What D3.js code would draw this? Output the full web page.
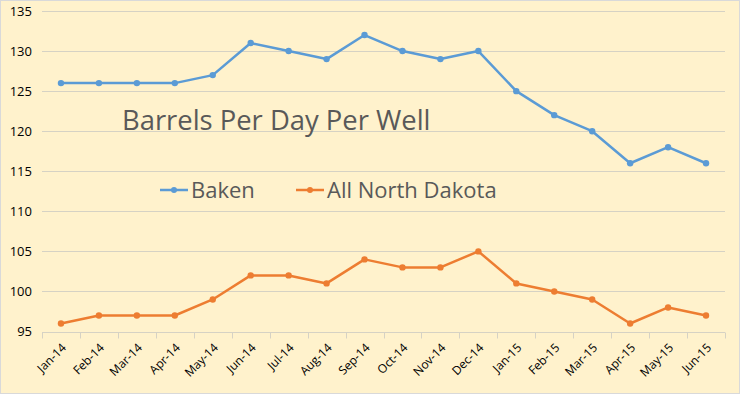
<!DOCTYPE html>
<html>
<head>
<meta charset="utf-8">
<script src="https://cdn.jsdelivr.net/npm/d3@7"></script>
<style>
  body { margin: 0; background: #fff; }
  svg { display: block; font-family: "Open Sans", "Noto Sans", sans-serif; }
</style>
</head>
<body>
<svg class="chart" width="740" height="394"></svg>
<script>
var months = ['Jan-14','Feb-14','Mar-14','Apr-14','May-14','Jun-14','Jul-14','Aug-14','Sep-14',
  'Oct-14','Nov-14','Dec-14','Jan-15','Feb-15','Mar-15','Apr-15','May-15','Jun-15'];
var baken = [126,126,126,126,127,131,130,129,132,130,129,130,125,122,120,116,118,116];
var northDakota = [96,97,97,97,99,102,102,101,104,103,103,105,101,100,99,96,98,97];
var yTicks = [95,100,105,110,115,120,125,130,135];

var svg = d3.select('.chart');
var width = +svg.attr('width');
var height = +svg.attr('height');

// background + border
svg.append('rect')
  .attr('x', 0.5).attr('y', 0.5)
  .attr('width', width - 1).attr('height', height - 1)
  .attr('fill', '#FFF2CC')
  .attr('stroke', '#D9D9D9');

var plot = {l: 42, r: 725, t: 11, b: 331.5};

var x = d3.scaleBand().domain(months).range([plot.l, plot.r]);
var y = d3.scaleLinear().domain([95, 135]).range([plot.b, plot.t]);

// gridlines
svg.append('g')
  .selectAll('line')
  .data(yTicks)
  .join('line')
  .attr('x1', plot.l).attr('x2', plot.r)
  .attr('y1', function(d) { return Math.round(y(d)) + 0.5; })
  .attr('y2', function(d) { return Math.round(y(d)) + 0.5; })
  .attr('stroke', '#D6D2C4')
  .attr('stroke-width', 1);

// y labels
var yAxis = d3.axisLeft(y).tickValues(yTicks).tickSize(0).tickPadding(10);
var yG = svg.append('g')
  .attr('transform', 'translate(' + plot.l + ',0)')
  .call(yAxis);
yG.select('.domain').remove();
yG.selectAll('text')
  .attr('fill', '#000')
  .style('font-size', '13px')
  .style('font-family', '"Open Sans", sans-serif');

// x tick marks at category boundaries
var bounds = months.map(function(m) { return x(m); }).concat([plot.r]);
svg.append('g')
  .selectAll('line')
  .data(bounds)
  .join('line')
  .attr('x1', function(d) { return Math.round(d) + 0.5; })
  .attr('x2', function(d) { return Math.round(d) + 0.5; })
  .attr('y1', Math.round(plot.b) + 0.5)
  .attr('y2', Math.round(plot.b) + 6.5)
  .attr('stroke', '#D6D2C4');

// x labels rotated
svg.append('g')
  .selectAll('text')
  .data(months)
  .join('text')
  .attr('transform', function(d) {
    var cx = x(d) + x.bandwidth() / 2 + 6;
    return 'translate(' + cx + ',' + (plot.b + 17) + ') rotate(-45)';
  })
  .attr('text-anchor', 'end')
  .attr('fill', '#000')
  .style('font-size', '12px')
  .text(function(d) { return d; });

var line = d3.line()
  .x(function(d, i) { return x(months[i]) + x.bandwidth() / 2; })
  .y(function(d) { return y(d); });

function drawSeries(data, color) {
  svg.append('path')
    .datum(data)
    .attr('fill', 'none')
    .attr('stroke', color)
    .attr('stroke-width', 2.5)
    .attr('stroke-linejoin', 'round')
    .attr('d', line);
  svg.append('g')
    .selectAll('circle')
    .data(data)
    .join('circle')
    .attr('cx', function(d, i) { return x(months[i]) + x.bandwidth() / 2; })
    .attr('cy', function(d) { return y(d); })
    .attr('r', 3.2)
    .attr('fill', color);
}
drawSeries(baken, '#5B9BD5');
drawSeries(northDakota, '#ED7D31');

// title
svg.append('text')
  .attr('x', 122).attr('y', 130)
  .attr('fill', '#595959')
  .style('font-size', '27.4px')
  .text('Barrels Per Day Per Well');

// legend
var legend = [
  {name: 'Baken', color: '#5B9BD5', x: 160},
  {name: 'All North Dakota', color: '#ED7D31', x: 296}
];
var lg = svg.append('g').selectAll('g').data(legend).join('g')
  .attr('transform', function(d) { return 'translate(' + d.x + ',190)'; });
lg.append('line')
  .attr('x1', 0).attr('x2', 28).attr('y1', 0).attr('y2', 0)
  .attr('stroke', function(d) { return d.color; })
  .attr('stroke-width', 2.5);
lg.append('circle')
  .attr('cx', 14).attr('cy', 0).attr('r', 3)
  .attr('fill', function(d) { return d.color; });
lg.append('text')
  .attr('x', 31).attr('y', 8)
  .attr('fill', '#595959')
  .style('font-size', '22px')
  .text(function(d) { return d.name; });
</script>
</body>
</html>
